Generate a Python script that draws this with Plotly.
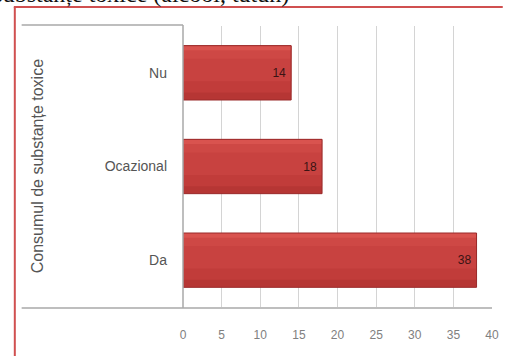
import plotly.graph_objects as go

categories = ["Da", "Ocazional", "Nu"]
values = [38, 18, 14]
x_ticks = [0, 5, 10, 15, 20, 25, 30, 35, 40]
axis_title = "Consumul de substanțe toxice"
top_text = "Consumul de substanțe toxice (alcool, tutun)"

W, H = 508, 356
L, R, T, B = 183, 9, 26, 49
pw, ph = W - L - R, H - T - B

def px(x):
    return (x - L) / pw

def py(y):
    return (H - B - y) / ph

FONT = "Liberation Sans Narrow, Liberation Sans, Arial"
BW = 0.58

fig = go.Figure()
# bar body (darker base), then lighter bands for a vertical gradient look
bands = [
    (-BW / 2, BW, "#b63634"),
    (-BW / 2 + 0.08, BW - 0.08, "#c13c3a"),
    (-BW / 2 + 0.2, BW - 0.2, "#c84240"),
    (BW / 2 - 0.14, 0.14, "#ce4845"),
    (BW / 2 - 0.05, 0.05, "#d9534f"),
]
for i, (off, wd, col) in enumerate(bands):
    fig.add_trace(go.Bar(
        y=categories, x=values, orientation="h",
        width=wd, offset=off,
        marker=dict(color=col, line=dict(width=0)),
        hoverinfo="skip",
    ))
# outline + labels
fig.add_trace(go.Bar(
    y=categories, x=values, orientation="h",
    width=BW, offset=-BW / 2,
    marker=dict(color="rgba(0,0,0,0)", line=dict(color="#9a2a2a", width=1)),
    text=[str(v) + "\u2009" for v in values], textposition="inside", insidetextanchor="end",
    textfont=dict(family=FONT, size=12, color="#3a1414"),
))

shapes = [
    # red page border
    dict(type="line", xref="paper", yref="paper", x0=px(11), x1=px(11), y0=py(7), y1=py(H + 2),
         line=dict(color="#d05050", width=2)),
    dict(type="line", xref="paper", yref="paper", x0=px(10), x1=px(W + 2), y0=py(7), y1=py(7),
         line=dict(color="#d05050", width=2)),
    # chart frame lines
    dict(type="line", xref="paper", yref="paper", x0=px(18), x1=px(183), y0=py(25), y1=py(25),
         line=dict(color="#a8a8a8", width=1.5)),
    dict(type="line", xref="paper", yref="paper", x0=px(18), x1=px(499), y0=py(308), y1=py(308),
         line=dict(color="#a8a8a8", width=1.5)),
    dict(type="line", xref="paper", yref="paper", x0=px(183), x1=px(183), y0=py(25), y1=py(308),
         line=dict(color="#a8a8a8", width=1.5)),
]

fig.update_layout(
    width=W, height=H,
    margin=dict(l=L, r=R, t=T, b=B),
    paper_bgcolor="white", plot_bgcolor="white",
    showlegend=False,
    barmode="overlay",
    shapes=shapes,
    font=dict(family=FONT, color="#555555"),
    annotations=[
        dict(text=top_text, xref="paper", yref="paper", x=px(293), y=py(9),
             xanchor="right", yanchor="bottom", showarrow=False,
             font=dict(family="Liberation Serif, Times New Roman", size=24, color="#111111")),
        dict(text=axis_title, xref="paper", yref="paper", x=px(34), y=py(166),
             xanchor="center", yanchor="middle", textangle=-90, showarrow=False,
             font=dict(family=FONT, size=16, color="#555555")),
    ],
)
fig.update_xaxes(
    range=[0, 40], tickvals=x_ticks, ticktext=[str(v) for v in x_ticks],
    showgrid=True, gridcolor="#d4d4d4", gridwidth=1,
    zeroline=False, showline=False, ticks="", ticklabelstandoff=19,
    tickfont=dict(size=12, color="#808080"),
)
fig.update_yaxes(
    categoryorder="array", categoryarray=categories,
    showgrid=False, zeroline=False, showline=False, ticks="",
    ticklabelstandoff=15,
    tickfont=dict(size=14, color="#555555"),
)

fig.write_html("out.html")
